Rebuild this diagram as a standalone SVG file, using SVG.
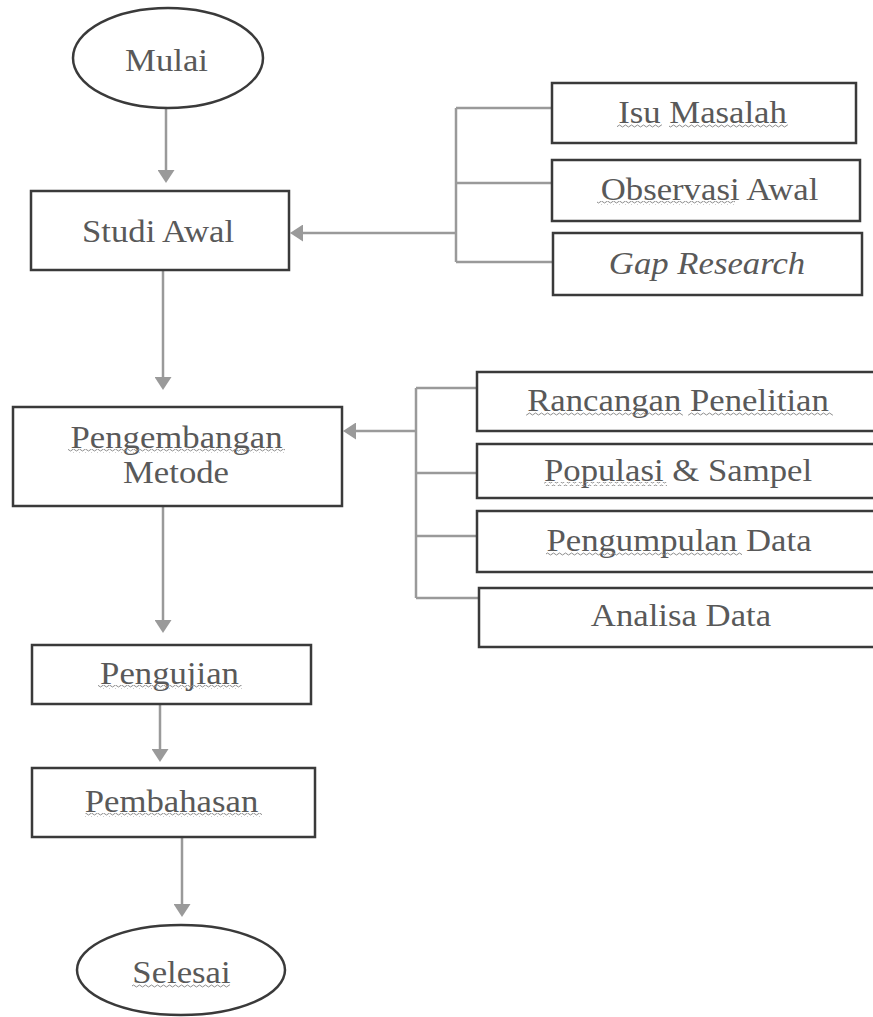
<svg xmlns="http://www.w3.org/2000/svg" width="873" height="1017" viewBox="0 0 873 1017">
<style>
.box{fill:#fff;stroke:#3a3a3a;stroke-width:2.5}
.t{font-family:"Liberation Serif","Times New Roman",serif;font-size:31px;fill:#595959;text-anchor:middle}
.i{font-style:italic}
.c{fill:none;stroke:#9a9a9a;stroke-width:2.5}
.w{fill:url(#wave)}
</style>
<defs>
<marker id="ah" markerUnits="userSpaceOnUse" markerWidth="14" markerHeight="17" refX="7" refY="8.5" orient="auto">
<path d="M0,0 L13,8.5 L0,17 z" fill="#9a9a9a"/>
</marker>
<pattern id="wave" patternUnits="userSpaceOnUse" width="6" height="4">
<path d="M0,2 Q1.5,0 3,2 T6,2" fill="none" stroke="#8c8c8c" stroke-width="1"/>
</pattern>
</defs>
<g id="connectors">
<line class="c" x1="166" y1="109" x2="166" y2="177" marker-end="url(#ah)"/>
<line class="c" x1="163" y1="270" x2="163" y2="384" marker-end="url(#ah)"/>
<path class="c" d="M456,108 V262 M456,108 H552 M456,183 H552 M456,262 H552"/>
<line class="c" x1="456" y1="233" x2="296" y2="233" marker-end="url(#ah)"/>
<path class="c" d="M416,388 V598 M416,388 H478 M416,473 H478 M416,536 H478 M416,598 H480"/>
<line class="c" x1="416" y1="431" x2="349" y2="431" marker-end="url(#ah)"/>
<line class="c" x1="163" y1="506" x2="163" y2="627" marker-end="url(#ah)"/>
<line class="c" x1="160" y1="704" x2="160" y2="756" marker-end="url(#ah)"/>
<line class="c" x1="182" y1="837" x2="182" y2="911" marker-end="url(#ah)"/>
</g>
<g id="mulai">
<ellipse class="box" cx="168" cy="58" rx="95" ry="50"/>
<text class="t" transform="translate(166.5,71) scale(1.12,1)">Mulai</text>
</g>
<g id="studi-awal">
<rect class="box" x="31" y="191" width="258" height="79"/>
<text class="t" transform="translate(158,242) scale(1.12,1)">Studi Awal</text>
</g>
<g id="isu-masalah">
<rect class="box" x="552" y="83" width="304" height="60"/>
<text class="t" transform="translate(702.5,123) scale(1.12,1)">Isu Masalah</text>
<rect class="w" x="617" y="124" width="45" height="4"/>
<rect class="w" x="669" y="124" width="119" height="4"/>
</g>
<g id="observasi-awal">
<rect class="box" x="552" y="160" width="308" height="61"/>
<text class="t" transform="translate(709.5,200) scale(1.12,1)">Observasi Awal</text>
<rect class="w" x="597" y="201" width="138" height="4"/>
</g>
<g id="gap-research">
<rect class="box" x="553" y="233" width="309" height="62"/>
<text class="t i" transform="translate(707,274) scale(1.12,1)">Gap Research</text>
</g>
<g id="pengembangan-metode">
<rect class="box" x="13" y="407" width="329" height="99"/>
<text class="t" transform="translate(176.5,448) scale(1.12,1)">Pengembangan</text>
<rect class="w" x="68" y="449" width="217" height="4"/>
<text class="t" transform="translate(176,483) scale(1.12,1)">Metode</text>
</g>
<g id="rancangan-penelitian">
<rect class="box" x="477" y="372" width="410" height="59"/>
<text class="t" transform="translate(678,411) scale(1.12,1)">Rancangan Penelitian</text>
<rect class="w" x="526" y="412" width="157" height="4"/>
<rect class="w" x="688" y="412" width="145" height="4"/>
</g>
<g id="populasi-sampel">
<rect class="box" x="477" y="444" width="410" height="54"/>
<text class="t" transform="translate(678,481) scale(1.12,1)">Populasi &amp; Sampel</text>
<rect class="w" x="544" y="482" width="123" height="4"/>
</g>
<g id="pengumpulan-data">
<rect class="box" x="477" y="511" width="410" height="61"/>
<text class="t" transform="translate(679,551) scale(1.12,1)">Pengumpulan Data</text>
<rect class="w" x="546" y="552" width="196" height="4"/>
</g>
<g id="analisa-data">
<rect class="box" x="479" y="588" width="410" height="59"/>
<text class="t" transform="translate(681,626) scale(1.12,1)">Analisa Data</text>
</g>
<g id="pengujian">
<rect class="box" x="32" y="645" width="279" height="59"/>
<text class="t" transform="translate(169.5,684) scale(1.12,1)">Pengujian</text>
<rect class="w" x="98" y="685" width="144" height="4"/>
</g>
<g id="pembahasan">
<rect class="box" x="32" y="768" width="283" height="69"/>
<text class="t" transform="translate(171.5,812) scale(1.12,1)">Pembahasan</text>
<rect class="w" x="85" y="813" width="177" height="4"/>
</g>
<g id="selesai">
<ellipse class="box" cx="181" cy="970" rx="104" ry="45"/>
<text class="t" transform="translate(181.5,983) scale(1.12,1)">Selesai</text>
<rect class="w" x="132" y="984" width="98" height="4"/>
</g>
</svg>
